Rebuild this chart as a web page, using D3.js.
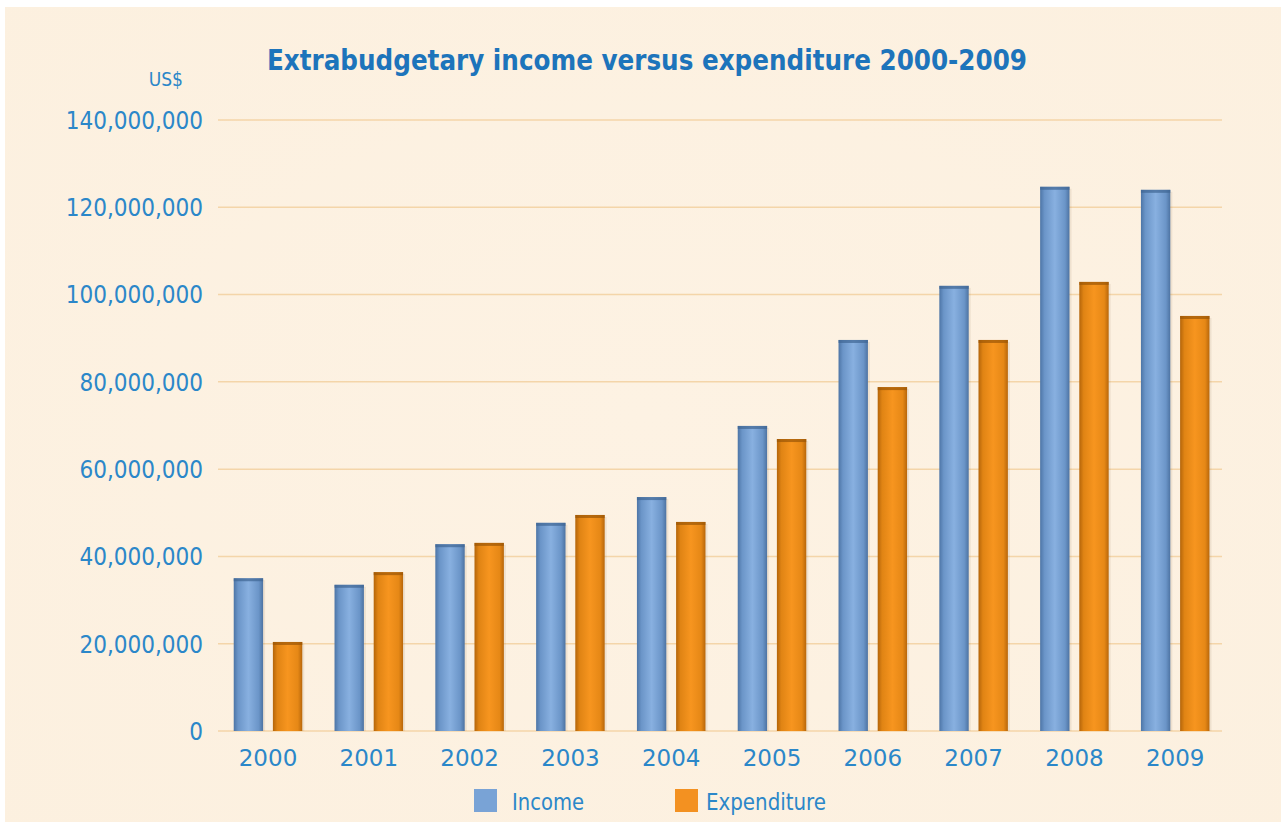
<!DOCTYPE html>
<html><head><meta charset="utf-8">
<script src="https://cdn.jsdelivr.net/npm/d3@7"></script>
<style>
html,body{margin:0;padding:0;background:#fff;}
svg{display:block;}
</style></head>
<body>
<script>
const years = ["2000","2001","2002","2003","2004","2005","2006","2007","2008","2009"];
const income = [35000000,33500000,42800000,47700000,53600000,69900000,89600000,102000000,124700000,124000000];
const expenditure = [20400000,36400000,43100000,49500000,47900000,66900000,78800000,89600000,102900000,95100000];
const seriesNames = ["Income","Expenditure"];
const yTicks = [0,20000000,40000000,60000000,80000000,100000000,120000000,140000000];
const titleText = "Extrabudgetary income versus expenditure 2000-2009";
const unitText = "US$";

const W = 1281, H = 826;
const svg = d3.select("body").append("svg").attr("width", W).attr("height", H);
const defs = svg.append("defs");

function hgrad(id, stops){
  const g = defs.append("linearGradient").attr("id", id).attr("x1","0%").attr("x2","100%").attr("y1","0%").attr("y2","0%");
  stops.forEach(s => g.append("stop").attr("offset", s[0]).attr("stop-color", s[1]));
}
hgrad("gBlue", [["0%","#4d75a6"],["15%","#6b95c8"],["50%","#88b0e0"],["85%","#6b95c8"],["100%","#4d73a2"]]);
hgrad("gOrange", [["0%","#b4650a"],["15%","#e08414"],["50%","#f7951f"],["85%","#e68816"],["100%","#b8670b"]]);
const bgG = defs.append("radialGradient").attr("id","bg").attr("cx","50%").attr("cy","50%").attr("r","75%");
bgG.append("stop").attr("offset","0%").attr("stop-color","#fdf2e3");
bgG.append("stop").attr("offset","100%").attr("stop-color","#fcf0df");

svg.append("rect").attr("x",5).attr("y",7).attr("width",W-5).attr("height",H-11).attr("fill","url(#bg)");

const x0 = d3.scaleBand().domain(years).range([217.6, 1225.6]).paddingInner(0).paddingOuter(0);
const x1 = d3.scaleBand().domain(seriesNames).range([16, 84]).paddingInner(0.25);
const y = d3.scaleLinear().domain([0,140000000]).range([731,120]);

// grid
svg.append("g").selectAll("line").data(yTicks).join("line")
  .attr("x1", 218).attr("x2", 1222)
  .attr("y1", d=>y(d)).attr("y2", d=>y(d))
  .attr("stroke", "#f4d5a9").attr("stroke-width", 1.5);

const blue = "#2b87c9";
const condFont = "'DejaVu Sans Condensed','DejaVu Sans',sans-serif";
// y axis
const yAxis = d3.axisLeft(y).tickValues(yTicks).tickSize(0).tickPadding(0).tickFormat(d3.format(","));
const ya = svg.append("g").attr("transform","translate(203,0)").call(yAxis);
ya.select(".domain").remove();
ya.selectAll("text").attr("fill", blue).attr("font-family", condFont)
  .attr("font-size", 24).attr("dy","0.35em");

svg.append("text").attr("x",183).attr("y",86).attr("text-anchor","end")
  .attr("font-family", condFont).attr("font-size",19)
  .attr("fill", blue).text(unitText);

// x axis
const xAxis = d3.axisBottom(x0).tickSize(0).tickPadding(0);
const xa = svg.append("g").attr("transform","translate(0,731)").call(xAxis);
xa.select(".domain").remove();
xa.selectAll("text").attr("fill", blue).attr("font-family","'DejaVu Sans','Noto Sans',sans-serif")
  .attr("font-size", 23).attr("dy","1.5em");

// bars
const data = years.map((yr,i)=>({year:yr, vals:[{k:"Income",v:income[i]},{k:"Expenditure",v:expenditure[i]}]}));
const fills = {Income:"url(#gBlue)", Expenditure:"url(#gOrange)"};
const caps = {Income:"#3f6593", Expenditure:"#9a5606"};
const bw = x1.bandwidth()*x0.bandwidth()/100;
const groups = svg.append("g").selectAll("g").data(data).join("g")
  .attr("transform", d=>`translate(${x0(d.year)},0)`);
groups.selectAll("rect.shadow").data(d=>d.vals).join("rect").attr("class","shadow")
  .attr("x", d=>x1(d.k)*x0.bandwidth()/100 + 2).attr("width", bw)
  .attr("y", d=>y(d.v)+2).attr("height", d=>731-y(d.v)-2).attr("fill","rgba(120,90,50,0.10)");
groups.selectAll("rect.bar").data(d=>d.vals).join("rect").attr("class","bar")
  .attr("x", d=>x1(d.k)*x0.bandwidth()/100).attr("width", bw)
  .attr("y", d=>y(d.v)).attr("height", d=>731-y(d.v)).attr("fill", d=>fills[d.k]);
groups.selectAll("rect.cap").data(d=>d.vals).join("rect").attr("class","cap")
  .attr("x", d=>x1(d.k)*x0.bandwidth()/100).attr("width", bw)
  .attr("y", d=>y(d.v)).attr("height", 3).attr("fill", d=>caps[d.k]).attr("opacity",0.7);

// title
svg.append("text").attr("x", 647).attr("y", 70).attr("text-anchor","middle")
  .attr("font-family", condFont).attr("font-weight","bold")
  .attr("font-size", 29).attr("textLength", 760).attr("lengthAdjust","spacingAndGlyphs")
  .attr("fill", "#1d74bb").text(titleText);

// legend
const legend = [{k:"Income", x:474, tx:512, tl:72, sw:"#79a3d6"},{k:"Expenditure", x:675, tx:706, tl:120, sw:"#f39121"}];
const lg = svg.append("g").selectAll("g").data(legend).join("g");
lg.append("rect").attr("x", d=>d.x).attr("y",789).attr("width",23).attr("height",23).attr("fill", d=>d.sw);
lg.append("text").attr("x", d=>d.tx).attr("y", 810)
  .attr("font-family", condFont).attr("font-size",23)
  .attr("textLength", d=>d.tl).attr("lengthAdjust","spacingAndGlyphs")
  .attr("fill", blue).text(d=>d.k);
</script>
</body></html>
